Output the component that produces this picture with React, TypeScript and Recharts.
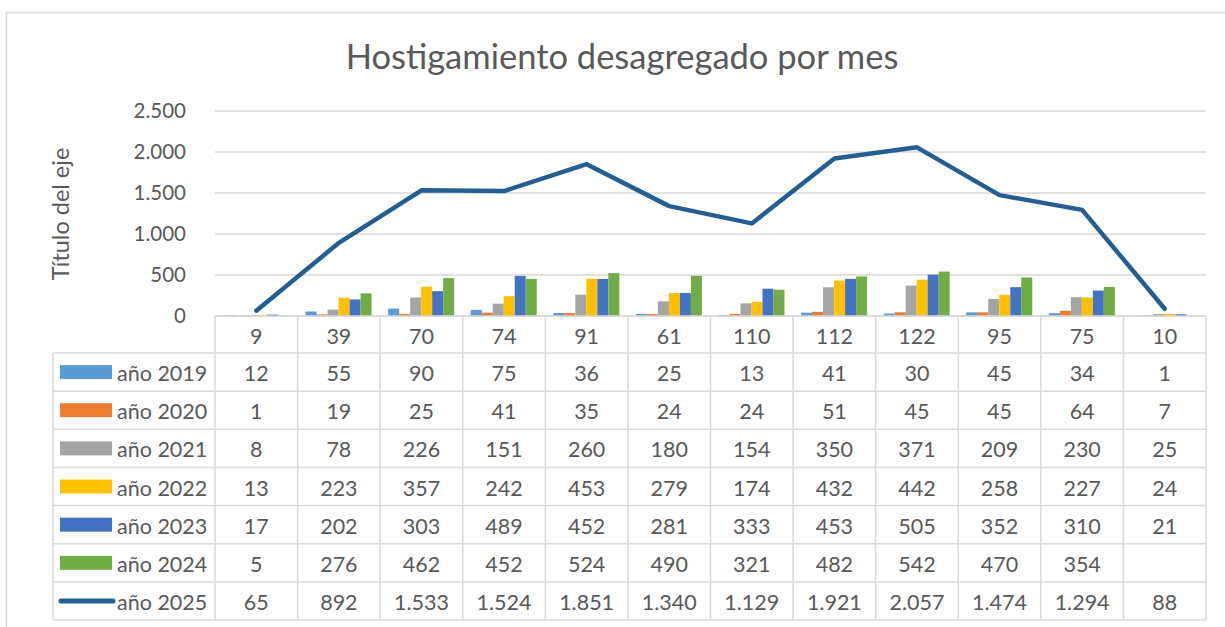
import {
  Bar,
  CartesianGrid,
  ComposedChart,
  Customized,
  Line,
  XAxis,
  YAxis,
} from "recharts";

const categories = ["9", "39", "70", "74", "91", "61", "110", "112", "122", "95", "75", "10"];
const y2019 = [12, 55, 90, 75, 36, 25, 13, 41, 30, 45, 34, 1];
const y2020 = [1, 19, 25, 41, 35, 24, 24, 51, 45, 45, 64, 7];
const y2021 = [8, 78, 226, 151, 260, 180, 154, 350, 371, 209, 230, 25];
const y2022 = [13, 223, 357, 242, 453, 279, 174, 432, 442, 258, 227, 24];
const y2023 = [17, 202, 303, 489, 452, 281, 333, 453, 505, 352, 310, 21];
const y2024 = [5, 276, 462, 452, 524, 490, 321, 482, 542, 470, 354, null];
const y2025 = [65, 892, 1533, 1524, 1851, 1340, 1129, 1921, 2057, 1474, 1294, 88];
const yTicks = [0, 500, 1000, 1500, 2000, 2500];

const series = [
  { key: "año 2019", values: y2019, color: "#5B9BD5" },
  { key: "año 2020", values: y2020, color: "#ED7D31" },
  { key: "año 2021", values: y2021, color: "#A5A5A5" },
  { key: "año 2022", values: y2022, color: "#FFC000" },
  { key: "año 2023", values: y2023, color: "#4472C4" },
  { key: "año 2024", values: y2024, color: "#70AD47" },
];
const lineSeries = { key: "año 2025", values: y2025, color: "#255E91" };
const allSeries = [...series, lineSeries];

const data = categories.map((c, i) => {
  const row: Record<string, string | number | null> = { cat: c };
  allSeries.forEach((s) => {
    row[s.key] = s.values[i];
  });
  return row;
});

// layout
const W = 1225;
const H = 627;
const PLOT_LEFT = 215;
const PLOT_RIGHT = 1206;
const PLOT_TOP = 111;
const PLOT_BOTTOM = 316;
const TABLE_LEFT = 53;
const HEADER_BOTTOM = 353;
const ROW_H = 38.15;
const COL_W = (PLOT_RIGHT - PLOT_LEFT) / categories.length;
const FONT = "Lato, 'Open Sans', sans-serif";
const TXT = "#595959";
const BORDER = "#D9D9D9";
const CELL_FONT = 21.5;

const fmt = (v: number | null | undefined) =>
  v === null || v === undefined ? "" : String(v).replace(/\B(?=(\d{3})+(?!\d))/g, ".");

function TableColumn(props: any) {
  const { x, index, payload } = props;
  const left = x - COL_W / 2;
  const right = x + COL_W / 2;
  const bottom = HEADER_BOTTOM + ROW_H * allSeries.length;
  const last = index === categories.length - 1;
  return (
    <g>
      <line x1={left} x2={right} y1={PLOT_BOTTOM} y2={PLOT_BOTTOM} stroke={BORDER} strokeWidth={1.5} />
      <line x1={left} x2={left} y1={PLOT_BOTTOM} y2={bottom} stroke={BORDER} strokeWidth={1.5} />
      {last && <line x1={right} x2={right} y1={PLOT_BOTTOM} y2={bottom} stroke={BORDER} strokeWidth={1.5} />}
      <text x={x} y={(PLOT_BOTTOM + HEADER_BOTTOM) / 2 + 1} textAnchor="middle" dominantBaseline="central"
        fontFamily={FONT} fontSize={CELL_FONT} fill={TXT}>{payload.value}</text>
      {allSeries.map((s, r) => {
        const top = HEADER_BOTTOM + r * ROW_H;
        return (
          <g key={s.key}>
            <line x1={left} x2={right} y1={top} y2={top} stroke={BORDER} strokeWidth={1.5} />
            <text x={x} y={top + ROW_H / 2 + 1} textAnchor="middle" dominantBaseline="central"
              fontFamily={FONT} fontSize={CELL_FONT} fill={TXT}>{fmt(s.values[index])}</text>
          </g>
        );
      })}
      <line x1={left} x2={right} y1={bottom} y2={bottom} stroke={BORDER} strokeWidth={1.5} />
    </g>
  );
}

function LegendColumn() {
  const bottom = HEADER_BOTTOM + ROW_H * allSeries.length;
  return (
    <g>
      <line x1={TABLE_LEFT} x2={TABLE_LEFT} y1={HEADER_BOTTOM} y2={bottom} stroke={BORDER} strokeWidth={1.5} />
      {allSeries.map((s, r) => {
        const top = HEADER_BOTTOM + r * ROW_H;
        const mid = top + ROW_H / 2;
        return (
          <g key={s.key}>
            <line x1={TABLE_LEFT} x2={PLOT_LEFT} y1={top} y2={top} stroke={BORDER} strokeWidth={1.5} />
            {s === lineSeries ? (
              <line x1={61} x2={113} y1={mid} y2={mid} stroke={s.color} strokeWidth={5} strokeLinecap="round" />
            ) : (
              <rect x={60} y={mid - 7} width={52} height={14} fill={s.color} />
            )}
            <text x={117} y={mid + 1} dominantBaseline="central" fontFamily={FONT} fontSize={CELL_FONT} fill={TXT}>
              {s.key}
            </text>
          </g>
        );
      })}
      <line x1={TABLE_LEFT} x2={PLOT_LEFT} y1={bottom} y2={bottom} stroke={BORDER} strokeWidth={1.5} />
    </g>
  );
}

function Frame() {
  return (
    <g>
      <rect x={6.5} y={12.5} width={W + 20} height={H + 20} fill="none" stroke={BORDER} strokeWidth={1.5} />
      <text x={622} y={69} textAnchor="middle" fontFamily={FONT} fontSize={34.5} fill={TXT}>
        Hostigamiento desagregado por mes
      </text>
      <text x={60} y={214} textAnchor="middle" dominantBaseline="central" transform="rotate(-90 60 214)"
        fontFamily={FONT} fontSize={23.5} fill={TXT}>
        Título del eje
      </text>
    </g>
  );
}

export default function App() {
  return (
    <div style={{ position: "absolute", left: 0, top: 0, background: "#fff" }}>
      <ComposedChart
        width={W}
        height={H}
        data={data}
        margin={{ top: PLOT_TOP, right: W - PLOT_RIGHT, bottom: 7, left: PLOT_LEFT - 70 }}
        barCategoryGap={8}
        barGap={0}
      >
        <Customized component={Frame} />
        <CartesianGrid vertical={false} stroke={BORDER} strokeWidth={1.5} />
        <YAxis
          width={70}
          domain={[0, 2500]}
          ticks={yTicks}
          tickFormatter={fmt}
          axisLine={false}
          tickLine={false}
          tickSize={0}
          tickMargin={29}
          tick={{ fontFamily: FONT, fontSize: 20.5, fill: TXT }}
        />
        <XAxis
          dataKey="cat"
          height={H - 7 - PLOT_BOTTOM}
          axisLine={false}
          tickLine={false}
          interval={0}
          tick={<TableColumn />}
        />
        {series.map((s) => (
          <Bar key={s.key} dataKey={s.key} fill={s.color} isAnimationActive={false} />
        ))}
        <Line
          type="linear"
          dataKey={lineSeries.key}
          stroke={lineSeries.color}
          strokeWidth={4.5}
          strokeLinecap="round"
          strokeLinejoin="round"
          dot={false}
          activeDot={false}
          isAnimationActive={false}
        />
        <Customized component={LegendColumn} />
      </ComposedChart>
    </div>
  );
}
